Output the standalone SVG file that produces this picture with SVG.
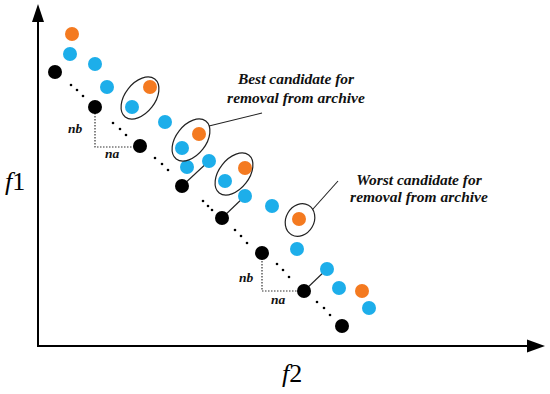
<svg xmlns="http://www.w3.org/2000/svg" width="550" height="394" viewBox="0 0 550 394">
<style>
.or{fill:#F47A20}
.bl{fill:#1DAEEA}
.bk{fill:#000}
.sd{fill:#000}
.ax{stroke:#000;stroke-width:2;fill:none}
.ah{fill:#000}
.el{fill:none;stroke:#222;stroke-width:1.2}
.ln{stroke:#222;stroke-width:1.1;fill:none}
.dt{stroke:#333;stroke-width:1.2;stroke-dasharray:1.5 1.5;fill:none}
.lab{font-family:"Liberation Serif",serif;font-weight:bold;font-style:italic;fill:#111}
.t{font-size:15.5px}
.n{font-size:13.5px}
.f{font-family:"Liberation Serif",serif;font-size:26px;fill:#000}
</style>
<rect width="550" height="394" fill="#fff"/>
<g id="axes">
<path class="ax" d="M38,20 V346 H530"/>
<polygon class="ah" points="38,4 32,22 44,22"/>
<polygon class="ah" points="545,346 527,339.5 527,352.5"/>
</g>
<g id="axis-labels">
<text class="f" x="5" y="190"><tspan font-style="italic">f</tspan><tspan>1</tspan></text>
<text class="f" x="282" y="382"><tspan font-style="italic">f</tspan><tspan>2</tspan></text>
</g>
<g id="connectors">
<path class="ln" d="M209,126 L262,113"/>
<path class="ln" d="M313,209 L338,181"/>
<path class="ln" d="M182,186 L209,161"/>
<path class="ln" d="M222,218 L245,196"/>
<path class="ln" d="M304,291 L327,269"/>
<path class="dt" d="M95,113 V147 H134"/>
<path class="dt" d="M262,258 V291 H299"/>
</g>
<g id="small-dots">
<circle class="sd" cx="71" cy="85" r="1.3"/><circle class="sd" cx="77" cy="90" r="1.3"/><circle class="sd" cx="83" cy="96" r="1.3"/>
<circle class="sd" cx="113" cy="123" r="1.3"/><circle class="sd" cx="120" cy="129" r="1.3"/><circle class="sd" cx="126" cy="135" r="1.3"/>
<circle class="sd" cx="155" cy="158" r="1.3"/><circle class="sd" cx="162" cy="164" r="1.3"/><circle class="sd" cx="168" cy="170" r="1.3"/>
<circle class="sd" cx="203" cy="201" r="1.3"/><circle class="sd" cx="208" cy="206" r="1.3"/><circle class="sd" cx="212" cy="210" r="1.3"/>
<circle class="sd" cx="235" cy="230" r="1.3"/><circle class="sd" cx="241" cy="236" r="1.3"/><circle class="sd" cx="247" cy="243" r="1.3"/>
<circle class="sd" cx="277" cy="264" r="1.3"/><circle class="sd" cx="283" cy="270" r="1.3"/><circle class="sd" cx="289" cy="277" r="1.3"/>
<circle class="sd" cx="317" cy="302" r="1.3"/><circle class="sd" cx="324" cy="308" r="1.3"/><circle class="sd" cx="330" cy="315" r="1.3"/>
</g>
<g id="black-points">
<circle class="bk" cx="55" cy="72" r="7"/>
<circle class="bk" cx="95" cy="107" r="7"/>
<circle class="bk" cx="140" cy="146" r="7"/>
<circle class="bk" cx="182" cy="186" r="7"/>
<circle class="bk" cx="222" cy="218" r="7"/>
<circle class="bk" cx="262" cy="253" r="7"/>
<circle class="bk" cx="304" cy="291" r="7"/>
<circle class="bk" cx="342" cy="326" r="7"/>
</g>
<g id="blue-points">
<circle class="bl" cx="70" cy="54" r="7"/>
<circle class="bl" cx="95" cy="64" r="7"/>
<circle class="bl" cx="107" cy="87" r="7"/>
<circle class="bl" cx="132" cy="107" r="7"/>
<circle class="bl" cx="165" cy="122" r="7"/>
<circle class="bl" cx="182" cy="148" r="7"/>
<circle class="bl" cx="187" cy="167" r="7"/>
<circle class="bl" cx="209" cy="161" r="7"/>
<circle class="bl" cx="225" cy="181" r="7"/>
<circle class="bl" cx="245" cy="196" r="7"/>
<circle class="bl" cx="272" cy="206" r="7"/>
<circle class="bl" cx="297" cy="249" r="7"/>
<circle class="bl" cx="327" cy="269" r="7"/>
<circle class="bl" cx="339" cy="288" r="7"/>
<circle class="bl" cx="369" cy="308" r="7"/>
</g>
<g id="orange-points">
<circle class="or" cx="72" cy="34" r="7"/>
<circle class="or" cx="150" cy="87" r="7"/>
<circle class="or" cx="199" cy="134" r="7"/>
<circle class="or" cx="245" cy="168" r="7"/>
<circle class="or" cx="299" cy="219" r="7"/>
<circle class="or" cx="362" cy="291" r="7"/>
</g>
<g id="ellipses">
<ellipse class="el" cx="140" cy="98" rx="24" ry="15" transform="rotate(-52 140 98)"/>
<ellipse class="el" cx="191" cy="140" rx="24" ry="15" transform="rotate(-52 191 140)"/>
<ellipse class="el" cx="234" cy="174" rx="24" ry="15" transform="rotate(-52 234 174)"/>
<ellipse class="el" cx="300" cy="220" rx="17" ry="14" transform="rotate(-60 300 220)"/>
</g>
<g id="labels">
<text class="lab t" x="296" y="84" text-anchor="middle">Best candidate for</text>
<text class="lab t" x="296" y="103" text-anchor="middle">removal from archive</text>
<text class="lab t" x="419" y="185" text-anchor="middle">Worst candidate for</text>
<text class="lab t" x="419" y="202" text-anchor="middle">removal from archive</text>
<text class="lab n" x="68" y="133">nb</text>
<text class="lab n" x="105" y="158">na</text>
<text class="lab n" x="239" y="282">nb</text>
<text class="lab n" x="271" y="304">na</text>
</g>
</svg>
